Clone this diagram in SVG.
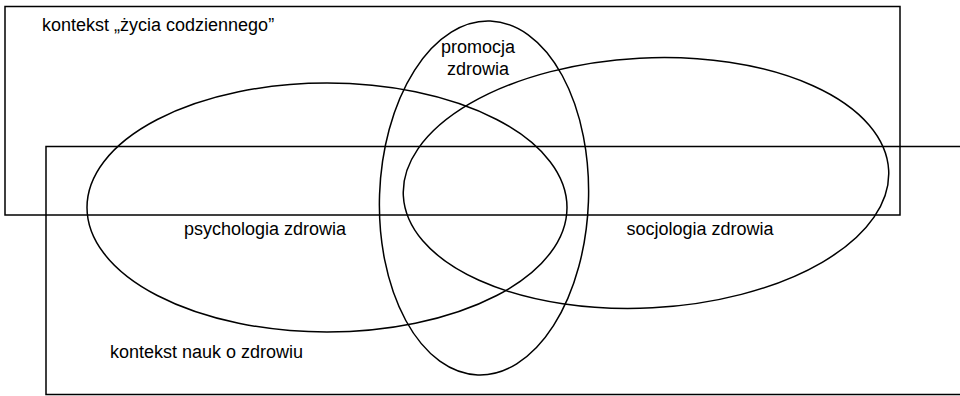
<svg xmlns="http://www.w3.org/2000/svg" width="960" height="396" viewBox="0 0 960 396">
<style>
.s{fill:none;stroke:#000;stroke-width:1.5}
.t{font-family:"Liberation Sans",Arial,sans-serif;font-size:18px;fill:#000}
</style>
<rect width="960" height="396" fill="#fff"/>
<g id="ctx-everyday">
<rect class="s" x="5" y="6.5" width="895" height="208.5"/>
<text class="t" x="42" y="31">kontekst „życia codziennego”</text>
</g>
<g id="ctx-health-sciences">
<path class="s" d="M962,146.5 H46 V394.5 H962"/>
<text class="t" x="110" y="358">kontekst nauk o zdrowiu</text>
</g>
<g id="psychology">
<ellipse class="s" cx="327" cy="207.5" rx="240" ry="124.5"/>
<text class="t" x="265" y="235" text-anchor="middle">psychologia zdrowia</text>
</g>
<g id="sociology">
<ellipse class="s" cx="646" cy="183" rx="243" ry="125" transform="rotate(-3 646 183)"/>
<text class="t" x="700" y="235" text-anchor="middle">socjologia zdrowia</text>
</g>
<g id="promotion">
<ellipse class="s" cx="484" cy="198" rx="104.5" ry="177" transform="rotate(2 484 198)"/>
<text class="t" x="478" y="53" text-anchor="middle">promocja</text>
<text class="t" x="478" y="75" text-anchor="middle">zdrowia</text>
</g>
<g id="connectors"></g>
</svg>
